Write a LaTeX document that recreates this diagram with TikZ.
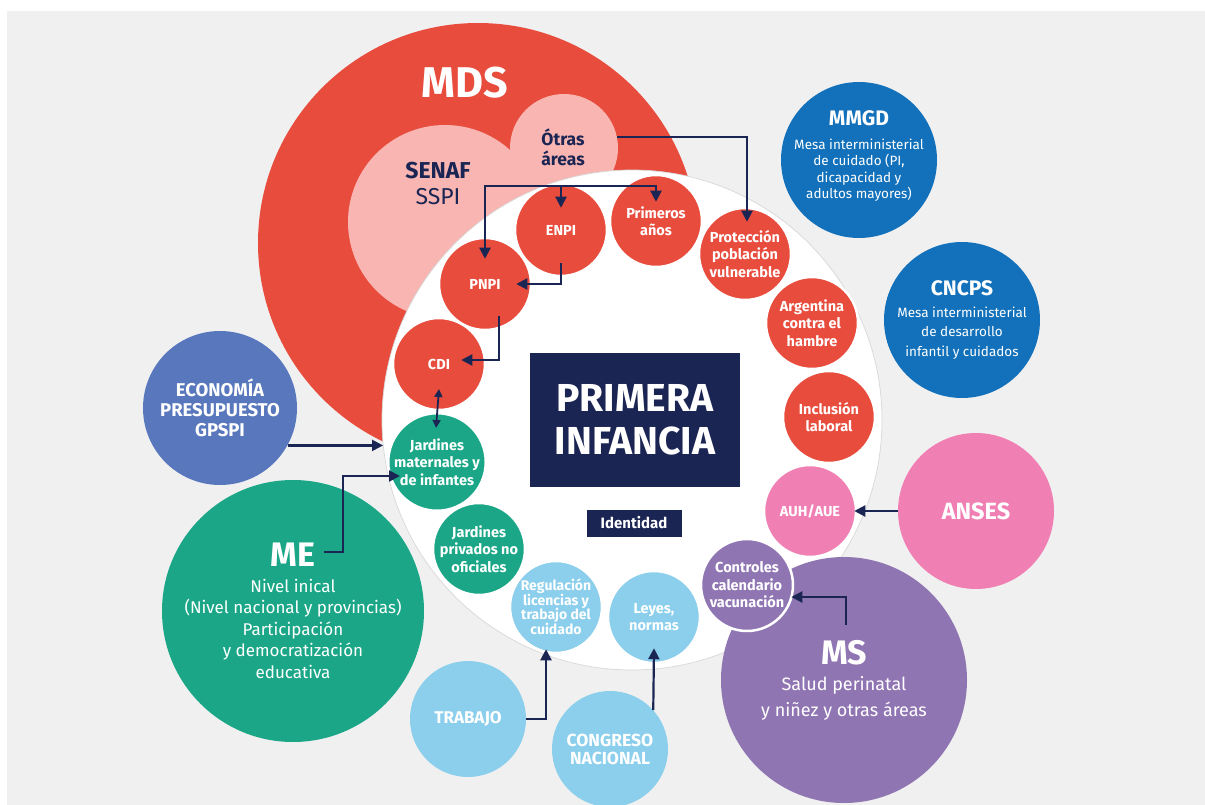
\documentclass[tikz,border=0pt]{standalone}
\usepackage{fontspec}
\setmainfont{Fira Sans}
\usetikzlibrary{arrows.meta,calc}

\definecolor{bggray}{RGB}{240,240,240}
\definecolor{ringgray}{RGB}{215,215,215}
\definecolor{mdsred}{RGB}{232,76,61}
\definecolor{pinkl}{RGB}{248,181,177}
\definecolor{navy}{RGB}{27,37,83}
\definecolor{blueb}{RGB}{18,113,186}
\definecolor{econblue}{RGB}{88,119,188}
\definecolor{edugreen}{RGB}{27,167,135}
\definecolor{lblue}{RGB}{139,207,236}
\definecolor{ansespink}{RGB}{240,127,179}
\definecolor{mspurple}{RGB}{144,117,179}

\tikzset{
	bubble/.style={circle, inner sep=0pt, align=center, text=white},
	small/.style={bubble, minimum size=92pt, draw=white, line width=2.5pt,
		font=\bfseries\fontsize{14.5}{17.5}\selectfont},
	conn/.style={draw=navy, line width=2.2pt, -{Triangle[length=11pt,width=11pt]}},
	conntwo/.style={draw=navy, line width=1.8pt,
		{Triangle[length=8pt,width=8pt]}-{Triangle[length=8pt,width=8pt]}},
}

\begin{document}
\begin{tikzpicture}[x=1pt,y=-1pt]
\useasboundingbox (0,0) rectangle (1205,805);
\fill[white] (0,0) rectangle (1205,805);
\fill[bggray] (7,11) rectangle (1205,805);

% MDS
\node[bubble, fill=mdsred, minimum size=440pt] (mds) at (478,243) {};
\node[bubble, fill=pinkl, minimum size=194pt] (senaf) at (445,222) {};
\node[bubble, fill=pinkl, minimum size=108pt] (otras) at (564,148) {};
\node[text=white, font=\bfseries\fontsize{43}{43}\selectfont] (mdslbl) at (465,83) {MDS};
\node[align=center, text=navy, font=\fontsize{23}{26}\selectfont] (senaflbl) at (438,183) {\textbf{SENAF}\\SSPI};
\node[align=center, text=navy, font=\bfseries\fontsize{17.5}{20}\selectfont] (otraslbl) at (563,147) {Ótras\\áreas};

% primera infancia
\node[bubble, fill=white, draw=ringgray, line width=0.7pt, minimum size=500pt] (pi) at (632,420) {};

% outer circles
\node[bubble, fill=blueb, minimum size=156pt] (mmgd) at (859,160) {};
\node[align=center, text=white, font=\fontsize{13.5}{16.5}\selectfont] (mmgdlbl) at (859,156)
	{{\bfseries\fontsize{21}{21}\selectfont MMGD}\\[7pt]Mesa interministerial\\de cuidado (PI,\\dicapacidad y\\adultos mayores)};
\node[bubble, fill=blueb, minimum size=156pt, font=\fontsize{13.5}{19.5}\selectfont] (cncps) at (962,320)
	{{\bfseries\fontsize{21}{21}\selectfont CNCPS}\\[2pt]Mesa interministerial\\de desarrollo\\infantil y cuidados};
\node[bubble, fill=ansespink, minimum size=156pt, font=\bfseries\fontsize{23.5}{23.5}\selectfont] (anses) at (976,511) {ANSES};
\node[bubble, fill=mspurple, minimum size=246pt, font=\fontsize{18}{26}\selectfont] (ms) at (844,680)
	{{\bfseries\fontsize{34}{34}\selectfont MS}\\Salud perinatal\\y niñez y otras áreas};
\node[bubble, fill=econblue, minimum size=154pt, font=\bfseries\fontsize{18.5}{20}\selectfont] (econ) at (220,408)
	{ECONOMÍA\\PRESUPUESTO\\GPSPI};
\node[bubble, fill=edugreen, minimum size=262pt, font=\fontsize{17}{21.5}\selectfont] (me) at (293,611)
	{{\bfseries\fontsize{34}{34}\selectfont ME}\\[4pt]Nivel inical\\(Nivel nacional y provincias)\\Participación\\y democratización\\educativa};
\node[bubble, fill=lblue, minimum size=116pt, font=\bfseries\fontsize{17}{18}\selectfont] (trabajo) at (468,719) {TRABAJO};
\node[bubble, fill=lblue, minimum size=116pt, font=\bfseries\fontsize{17.5}{18}\selectfont] (congreso) at (610,749) {CONGRESO\\NACIONAL};

% inner circles
\node[small, fill=mdsred] (enpi) at (561,230) {ENPI};
\node[small, fill=mdsred] (primeros) at (656,221) {Primeros\\años};
\node[small, fill=mdsred] (proteccion) at (745,254) {Protección\\población\\vulnerable};
\node[small, fill=mdsred] (argentina) at (812,323) {Argentina\\contra el\\hambre};
\node[small, fill=mdsred] (inclusion) at (829,417) {Inclusión\\laboral};
\node[small, fill=ansespink] (auh) at (810,511) {AUH/AUE};
\node[small, fill=mspurple] (controles) at (747,585) {Controles\\calendario\\vacunación};
\node[small, fill=lblue] (leyes) at (654,617) {Leyes,\\normas};
\node[small, fill=lblue, font=\bfseries\fontsize{14}{14.5}\selectfont] (regulacion) at (556,607)
	{Regulación\\licencias y\\trabajo del\\cuidado};
\node[small, fill=edugreen] (privados) at (479,549) {Jardines\\privados no\\oficiales};
\node[small, fill=edugreen] (maternales) at (437,462) {Jardines\\maternales y\\de infantes};
\node[small, fill=mdsred] (cdi) at (439,364) {CDI};
\node[small, fill=mdsred] (pnpi) at (485,284) {PNPI};

% centre
\node[fill=navy, minimum width=210pt, minimum height=134pt, inner sep=0pt, align=center, text=white,
	font=\bfseries\fontsize{39}{43}\selectfont] (core) at (635,420) {PRIMERA\\INFANCIA};
\node[fill=navy, minimum width=95pt, minimum height=27pt, inner sep=0pt, text=white,
	font=\bfseries\fontsize{15}{15}\selectfont] (ident) at (634,523) {Identidad};

% connectors
\coordinate (fork) at (561,186);
\draw[conn] (otras.12) -| ([xshift=2pt,yshift=-15pt]proteccion.north);
\draw[conn] (fork) -| ([yshift=-22pt]pnpi.north);
\draw[conn] (fork) -| ([yshift=-28pt]primeros.north);
\draw[conn] (fork) -- ([yshift=-25pt]enpi.north);
\draw[conn] ([yshift=-33pt]enpi.center) |- ([xshift=-16pt]pnpi.east);
\draw[conn] ([shift={(14pt,-32pt)}]pnpi.center) |- ([xshift=-25pt,yshift=4pt]cdi.east);
\draw[conntwo] ([yshift=-25pt]cdi.center) -- ([xshift=-1pt,yshift=34pt]maternales.center);
\draw[conn] (econ.-29) -- (pi.186 |- econ.-29);
\draw[conn] ([shift={(31pt,59pt)}]me.center) -- ++(19pt,0pt) |- ([shift={(-37pt,-14pt)}]maternales.center);
\draw[conn] (anses.west) -- ([xshift=-3pt]auh.east);
\draw[conn] ([shift={(2pt,55pt)}]ms.center) |- ([shift={(-3pt,-12pt)}]controles.east);
\draw[conn] (trabajo.east) -| ([shift={(-10pt,5pt)}]regulacion.south);
\draw[conn] (congreso.42) -- ([yshift=16pt]leyes.south);
\end{tikzpicture}
\end{document}
